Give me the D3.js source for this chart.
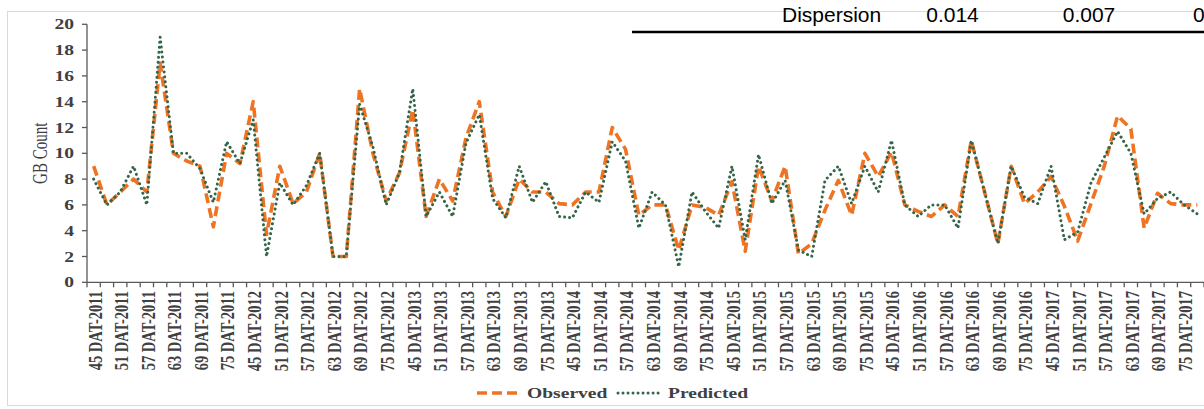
<!DOCTYPE html>
<html>
<head>
<meta charset="utf-8">
<script src="https://cdn.jsdelivr.net/npm/d3@7"></script>
<style>
  body { margin: 0; background: #fff; }
  svg { display: block; }
</style>
</head>
<body>
<svg id="chart" width="1204" height="409"></svg>
<script>
// Sampling seasons and days after transplanting (DAT)
const years = [2011, 2012, 2013, 2014, 2015, 2016, 2017];
const dats = [45, 48, 51, 54, 57, 60, 63, 66, 69, 72, 75, 78];
const labelledDats = [45, 51, 57, 63, 69, 75];

// GB counts per sampling date
const observed = [
  9, 6, 7, 8, 7, 17, 10, 9.4, 9, 4.3, 10, 9.2,
  14, 3.7, 9, 6.1, 7, 10, 2, 2, 15, 10, 6.3, 8.5,
  13.4, 5.1, 8, 6.3, 11.2, 14, 7, 5.1, 8, 7, 7, 6.1,
  6, 7, 7, 12, 10.3, 5.2, 6, 6, 2.5, 6, 5.8, 5.2,
  7.8, 2.4, 9, 6.3, 9, 2.2, 3, 5.6, 7.9, 5.2, 10, 8.2,
  10.1, 6, 5.5, 5.1, 6, 5.1, 11, 7, 3, 9, 6.1, 7,
  8.2, 5.9, 3.2, 6.1, 9, 12.9, 11.9, 4.2, 6.9, 6.1, 6, 6
];
const predicted = [
  8, 6, 7, 9, 6, 19, 10, 10, 8.8, 6.2, 10.9, 9.2,
  12.6, 2, 7.7, 6, 7.5, 10, 2, 2, 13.8, 10.5, 6, 8.5,
  15, 5.1, 7, 5.1, 10.8, 13, 6.5, 5, 9, 6.2, 7.8, 5.1,
  5, 7, 6.2, 10.9, 9.4, 4.2, 7, 6, 1.2, 7, 5.5, 4.2,
  9, 3.3, 9.9, 6.1, 7.9, 2.5, 2, 7.9, 9, 6.1, 9, 7,
  11, 6, 5.1, 6, 6, 4.2, 11, 7, 3, 9, 6.6, 6.1,
  9, 3.3, 3.9, 7.7, 9.7, 11.7, 10, 5.3, 6.5, 7, 6, 5.3
];

const yTicks = [0, 2, 4, 6, 8, 10, 12, 14, 16, 18, 20];
const dispersionLabel = "Dispersion";
const dispersionValues = ["0.014", "0.007", "0"];

const seriesNames = ["Observed", "Predicted"];

// ---- layout ----
const svg = d3.select("#chart");
const plot = { left: 87, right: 1204, top: 24.3, bottom: 282.3 };
const stretch = 1.35;           // horizontally widened lettering
const serif = "'Liberation Serif', 'Times New Roman', serif";
const textColor = "#404040";
const axisColor = "#595959";
const obsColor = "#EE7424";
const predColor = "#356548";
const obsDash = "10,5";
const predDash = "0.01,5";

const categories = years.flatMap(y => dats.map(d => `${d} DAT-${y}`));
const datOf = c => +c.split(" ")[0];

const x = d3.scaleBand().domain(categories).range([plot.left, plot.right]);
const y = d3.scaleLinear().domain([0, 20]).range([plot.bottom, plot.top]);
const cx = c => x(c) + x.bandwidth() / 2;

// chart frame
svg.append("rect")
  .attr("x", 7.5).attr("y", 11.5)
  .attr("width", 1230).attr("height", 394)
  .attr("fill", "none").attr("stroke", "#d9d9d9").attr("stroke-width", 1);

// ---- y axis ----
const yAxis = svg.append("g");
yAxis.append("line")
  .attr("x1", plot.left).attr("x2", plot.left)
  .attr("y1", y(20)).attr("y2", y(0))
  .attr("stroke", axisColor).attr("stroke-width", 1.3);
yAxis.selectAll("line.tick").data(yTicks).join("line")
  .attr("class", "tick")
  .attr("x1", plot.left - 5).attr("x2", plot.left)
  .attr("y1", d => y(d)).attr("y2", d => y(d))
  .attr("stroke", axisColor).attr("stroke-width", 1.3);
yAxis.selectAll("text").data(yTicks).join("text")
  .attr("transform", d => `translate(74,${y(d)}) scale(${stretch},1)`)
  .attr("text-anchor", "end")
  .attr("dy", "0.35em")
  .attr("font-family", serif).attr("font-weight", "bold")
  .attr("font-size", 14.5).attr("fill", textColor)
  .text(d => d);

svg.append("text")
  .attr("transform", `translate(40,${(plot.top + plot.bottom) / 2}) scale(${stretch},1) rotate(-90)`)
  .attr("text-anchor", "middle").attr("dy", "0.35em")
  .attr("font-family", serif).attr("font-size", 15).attr("fill", textColor)
  .text("GB Count");

// ---- x axis ----
const xAxis = svg.append("g");
xAxis.append("line")
  .attr("x1", plot.left).attr("x2", plot.right)
  .attr("y1", plot.bottom).attr("y2", plot.bottom)
  .attr("stroke", axisColor).attr("stroke-width", 1.3);
const boundaries = categories.map(c => x(c)).concat([plot.right]);
xAxis.selectAll("line.tick").data(boundaries).join("line")
  .attr("class", "tick")
  .attr("x1", d => d).attr("x2", d => d)
  .attr("y1", plot.bottom).attr("y2", plot.bottom + 5)
  .attr("stroke", axisColor).attr("stroke-width", 1.3);
xAxis.selectAll("text")
  .data(categories.filter(c => labelledDats.includes(datOf(c))))
  .join("text")
  .attr("transform", c => `translate(${cx(c) + 1},291) scale(${stretch},1) rotate(-90)`)
  .attr("text-anchor", "end").attr("dy", "0.35em")
  .attr("font-family", serif).attr("font-weight", "bold")
  .attr("font-size", 14.5).attr("fill", textColor)
  .text(c => c);

// ---- series ----
const line = d3.line().x((d, i) => cx(categories[i])).y(d => y(d));

svg.append("path")
  .datum(observed)
  .attr("d", line)
  .attr("fill", "none").attr("stroke", obsColor)
  .attr("stroke-width", 3.6).attr("stroke-dasharray", obsDash)
  .attr("stroke-linejoin", "round");

svg.append("path")
  .datum(predicted)
  .attr("d", line)
  .attr("fill", "none").attr("stroke", predColor)
  .attr("stroke-width", 3).attr("stroke-dasharray", predDash)
  .attr("stroke-linecap", "round").attr("stroke-linejoin", "round");

// ---- legend ----
const legend = svg.append("g");
const legendItems = [
  { name: seriesNames[0], x: 477, color: obsColor, width: 3.6, dash: obsDash, cap: "butt" },
  { name: seriesNames[1], x: 618, color: predColor, width: 3, dash: predDash, cap: "round" }
];
legendItems.forEach(it => {
  legend.append("line")
    .attr("x1", it.x).attr("x2", it.x + 43)
    .attr("y1", 393).attr("y2", 393)
    .attr("stroke", it.color).attr("stroke-width", it.width)
    .attr("stroke-dasharray", it.dash).attr("stroke-linecap", it.cap);
  legend.append("text")
    .attr("transform", `translate(${it.x + 50},393) scale(${stretch},1)`)
    .attr("dy", "0.35em")
    .attr("font-family", serif).attr("font-weight", "bold")
    .attr("font-size", 14.5).attr("fill", textColor)
    .text(it.name);
});

// ---- dispersion row ----
const sans = "'Liberation Sans', Arial, sans-serif";
svg.append("text")
  .attr("x", 782).attr("y", 22)
  .attr("font-family", sans).attr("font-size", 21).attr("fill", "#000")
  .text(dispersionLabel);
const valueX = [952.5, 1089, 1193];
const valueAnchor = ["middle", "middle", "start"];
svg.selectAll("text.disp").data(dispersionValues).join("text")
  .attr("class", "disp")
  .attr("x", (d, i) => valueX[i]).attr("y", 22)
  .attr("text-anchor", (d, i) => valueAnchor[i])
  .attr("font-family", sans).attr("font-size", 21).attr("fill", "#000")
  .text(d => d);
svg.append("line")
  .attr("x1", 632).attr("x2", 1204).attr("y1", 32).attr("y2", 32)
  .attr("stroke", "#000").attr("stroke-width", 2.5);
</script>
</body>
</html>
